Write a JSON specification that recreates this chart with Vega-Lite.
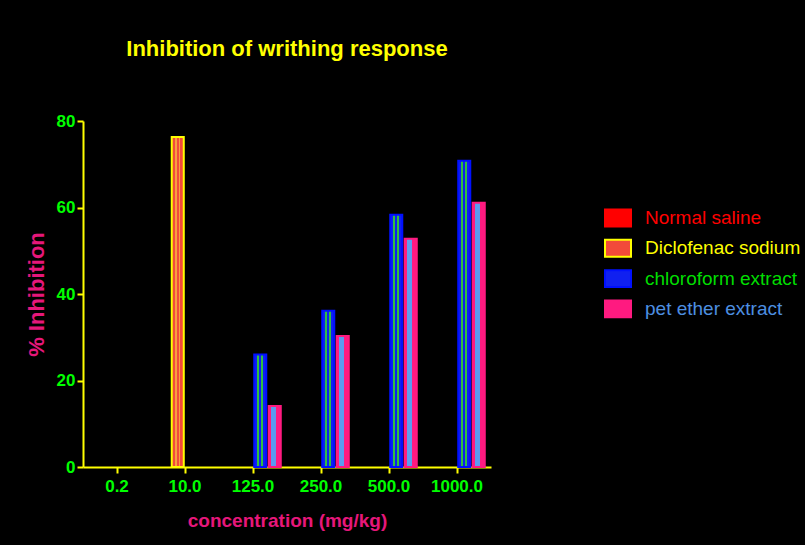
{
  "$schema": "https://vega.github.io/schema/vega-lite/v6.json",
  "width": 408,
  "height": 346,
  "autosize": {"type": "none"},
  "padding": {"left": 83, "top": 121, "right": 314, "bottom": 78},
  "background": "#000000",
  "title": {
    "text": "Inhibition of writhing response",
    "color": "#ffff00",
    "fontSize": 22,
    "fontWeight": "bold",
    "font": "Liberation Sans",
    "anchor": "middle",
    "frame": "group",
    "baseline": "alphabetic",
    "offset": 34
  },
  "data": {
    "values": [
      {"conc": "10.0", "series": "Diclofenac sodium", "value": 76.3},
      {"conc": "125.0", "series": "chloroform extract", "value": 26.0},
      {"conc": "125.0", "series": "pet ether extract", "value": 14.1},
      {"conc": "250.0", "series": "chloroform extract", "value": 36.1},
      {"conc": "250.0", "series": "pet ether extract", "value": 30.3},
      {"conc": "500.0", "series": "chloroform extract", "value": 58.3},
      {"conc": "500.0", "series": "pet ether extract", "value": 52.8},
      {"conc": "1000.0", "series": "chloroform extract", "value": 70.8},
      {"conc": "1000.0", "series": "pet ether extract", "value": 61.1}
    ]
  },
  "mark": {"type": "bar", "strokeWidth": 2},
  "encoding": {
    "x": {
      "field": "conc",
      "type": "nominal",
      "sort": null,
      "scale": {
        "domain": ["0.2", "10.0", "125.0", "250.0", "500.0", "1000.0"],
        "paddingInner": 0.147,
        "paddingOuter": 0.0735
      },
      "axis": {
        "title": "concentration (mg/kg)",
        "titleColor": "#e6177a",
        "titleFont": "Liberation Sans",
        "titleFontSize": 19,
        "titleFontWeight": "bold",
        "titlePadding": 17,
        "labelAngle": 0,
        "labelColor": "#00ff00",
        "labelFont": "Liberation Sans",
        "labelFontSize": 17,
        "labelFontWeight": "bold",
        "labelPadding": 5,
        "tickSize": 6,
        "tickWidth": 2,
        "tickColor": "#ffff00",
        "domainColor": "#ffff00",
        "domainWidth": 2,
        "grid": false
      }
    },
    "xOffset": {
      "field": "series",
      "type": "nominal",
      "scale": {
        "domain": ["Normal saline", "Diclofenac sodium", "chloroform extract", "pet ether extract"],
        "paddingInner": 0.17,
        "paddingOuter": 0.085
      }
    },
    "y": {
      "field": "value",
      "type": "quantitative",
      "scale": {"domain": [0, 80], "nice": false},
      "axis": {
        "title": "% Inhibition",
        "titleColor": "#e6177a",
        "titleFont": "Liberation Sans",
        "titleFontSize": 22,
        "titleFontWeight": "bold",
        "titlePadding": 8,
        "values": [0, 20, 40, 60, 80],
        "labelColor": "#00ff00",
        "labelFont": "Liberation Sans",
        "labelFontSize": 17,
        "labelFontWeight": "bold",
        "labelPadding": 2,
        "tickSize": 6,
        "tickWidth": 2,
        "tickColor": "#ffff00",
        "domainColor": "#ffff00",
        "domainWidth": 2,
        "grid": false
      }
    },
    "fill": {
      "field": "series",
      "type": "nominal",
      "scale": {
        "domain": ["Normal saline", "Diclofenac sodium", "chloroform extract", "pet ether extract"],
        "range": ["#ff0000", "#f24a3a", "#1020f0", "#ff1a80"]
      },
      "condition": [
        {
          "test": "datum.series === 'Diclofenac sodium'",
          "value": {
            "gradient": "linear", "x1": 0, "x2": 1, "y1": 0, "y2": 0,
            "stops": [
              {"offset": 0, "color": "#f24a3a"},
              {"offset": 0.28, "color": "#f24a3a"},
              {"offset": 0.28, "color": "#f8a040"},
              {"offset": 0.4, "color": "#f8a040"},
              {"offset": 0.4, "color": "#f24a3a"},
              {"offset": 0.6, "color": "#f24a3a"},
              {"offset": 0.6, "color": "#f8a040"},
              {"offset": 0.72, "color": "#f8a040"},
              {"offset": 0.72, "color": "#f24a3a"},
              {"offset": 1, "color": "#f24a3a"}
            ]
          }
        },
        {
          "test": "datum.series === 'chloroform extract'",
          "value": {
            "gradient": "linear", "x1": 0, "x2": 1, "y1": 0, "y2": 0,
            "stops": [
              {"offset": 0, "color": "#1020f0"},
              {"offset": 0.22, "color": "#1020f0"},
              {"offset": 0.22, "color": "#30c040"},
              {"offset": 0.4, "color": "#30c040"},
              {"offset": 0.4, "color": "#1020f0"},
              {"offset": 0.55, "color": "#1020f0"},
              {"offset": 0.55, "color": "#30c040"},
              {"offset": 0.73, "color": "#30c040"},
              {"offset": 0.73, "color": "#1020f0"},
              {"offset": 1, "color": "#1020f0"}
            ]
          }
        },
        {
          "test": "datum.series === 'pet ether extract'",
          "value": {
            "gradient": "linear", "x1": 0, "x2": 1, "y1": 0, "y2": 0,
            "stops": [
              {"offset": 0, "color": "#ff1a80"},
              {"offset": 0.15, "color": "#ff1a80"},
              {"offset": 0.15, "color": "#5b9bf0"},
              {"offset": 0.62, "color": "#5b9bf0"},
              {"offset": 0.62, "color": "#ff1a80"},
              {"offset": 1, "color": "#ff1a80"}
            ]
          }
        }
      ],
      "legend": {
        "orient": "none",
        "legendX": 521,
        "legendY": 83,
        "title": null,
        "padding": 0,
        "symbolType": "M-1,-0.65H1V0.65H-1Z",
        "symbolSize": 676,
        "symbolStrokeWidth": 2,
        "labelFont": "Liberation Sans",
        "labelFontSize": 19,
        "labelOffset": 13,
        "labelLimit": 300,
        "rowPadding": 3.3,
        "encode": {
          "labels": {
            "update": {
              "fill": {"signal": "datum.value === 'Normal saline' ? '#ff0000' : datum.value === 'Diclofenac sodium' ? '#ffff00' : datum.value === 'chloroform extract' ? '#00dd00' : '#4d8fe0'"}
            }
          }
        }
      }
    },
    "stroke": {
      "field": "series",
      "type": "nominal",
      "scale": {
        "domain": ["Normal saline", "Diclofenac sodium", "chloroform extract", "pet ether extract"],
        "range": ["#ff0000", "#ffff00", "#0010ff", "#ff1a80"]
      },
      "legend": null
    }
  },
  "config": {"view": {"stroke": null}}
}
